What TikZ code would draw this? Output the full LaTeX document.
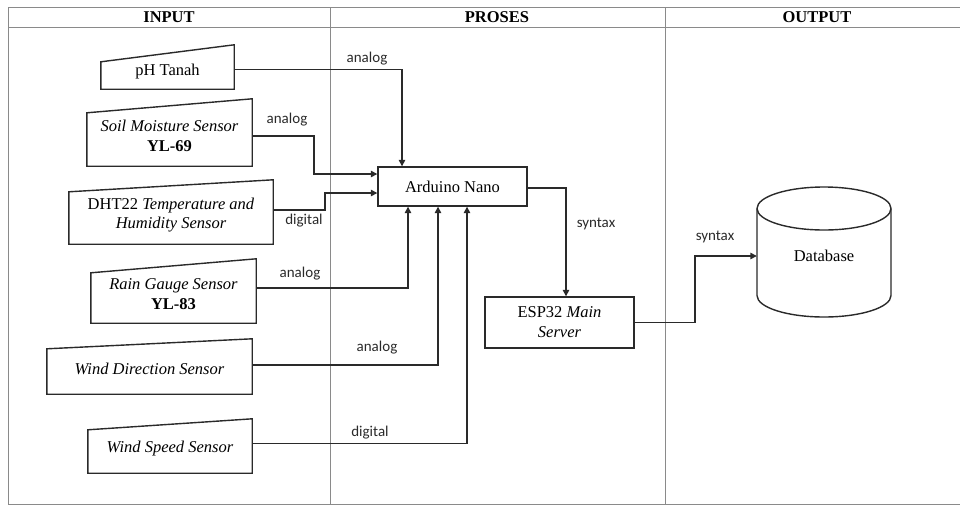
\documentclass[tikz,border=0pt]{standalone}
\usepackage{fontspec}
\setmainfont{Liberation Serif}
\newfontfamily\labfont{Carlito}
\usetikzlibrary{arrows.meta,positioning,calc}
\definecolor{ln}{HTML}{2A2A2A}
\definecolor{grid}{HTML}{8A8A8A}
\tikzset{
  sensor/.style={minimum height=#1, inner sep=0pt, align=center, font=\fontsize{16.5}{19.8}\selectfont},
  proc/.style={draw=ln, line width=1.4pt, inner sep=0pt, align=center, font=\fontsize{16.5}{19.8}\selectfont},
  head/.style={font=\fontsize{16.5}{19.8}\selectfont\bfseries},
  flow/.style={draw=ln, line width=1.4pt, -{Triangle[length=6.5pt,width=6.5pt]}},
  lab/.style={font=\labfont\fontsize{15}{18}\selectfont, text=ln, inner sep=0pt},
  frame/.style={draw=grid, line width=1pt},
}
\begin{document}
\begin{tikzpicture}[x=1pt, y=-1pt]
\useasboundingbox (0,0) rectangle (960,507);

% The three lanes: input, proses, output.
\draw[frame] (8,7) -- (960,7);
\draw[frame] (8,27) -- (960,27);
\draw[frame] (8,504) -- (960,504);
\draw[frame] (8,7) -- (8,504);
\draw[frame] (330,7) -- (330,504);
\draw[frame] (665,7) -- (665,504);
\node[head] (hin) at (169,17) {INPUT};
\node[head] (hpro) at (497,17) {PROSES};
\node[head] (hout) at (817,17) {OUTPUT};

% The sensors, drawn as manual input blocks (slanted top).
\node[sensor=35.5pt, minimum width=133pt] (ph) at (167.5,71.25) {pH Tanah};
\node[sensor=60pt, minimum width=165pt] (soil) at (169.5,136) {\textit{Soil Moisture Sensor}\\\textbf{YL-69}};
\node[sensor=58pt, minimum width=204pt] (dht) at (171,215) {DHT22 \textit{Temperature and}\\\textit{Humidity Sensor}};
\node[sensor=57pt, minimum width=165pt] (rain) at (173.5,294.5) {\textit{Rain Gauge Sensor}\\\textbf{YL-83}};
\node[sensor=50pt, minimum width=205pt] (wdir) at (149.5,369) {\textit{Wind Direction Sensor}};
\node[sensor=48.5pt, minimum width=164pt] (wspd) at (170,448.75) {\textit{Wind Speed Sensor}};
\foreach \n/\s in {ph/8.5pt, soil/7pt, dht/6pt, rain/7pt, wdir/5pt, wspd/5.5pt}
  \draw[ln, line width=1.4pt] (\n.south west) -- (\n.south east)
    -- ([yshift=\s]\n.north east) -- ([yshift=-\s]\n.north west) -- cycle;

% Processing and storage.
\node[proc, minimum width=149pt, minimum height=39pt] (ard) at (452.5,186.5) {Arduino Nano};
\node[proc, minimum width=149pt, minimum height=51pt] (esp) at (559.5,322.5) {ESP32 \textit{Main}\\\textit{Server}};
\node[sensor=130pt, minimum width=134pt] (db) at (824,256) {Database};
\draw[ln, line width=1.4pt] (824,208.5) ellipse [x radius=67, y radius=21.5];
\draw[ln, line width=1.4pt] (757,208.5) -- (757,295.5)
  arc[start angle=180, end angle=0, x radius=67, y radius=21.5] -- (891,208.5);

% Bends of the connectors.
\coordinate (k1) at (314,174);
\coordinate (k2) at (325,193);
\coordinate (k3) at (695,256);
\coordinate (t1) at (402,0);
\coordinate (t2) at (408,0);
\coordinate (t3) at (438,0);
\coordinate (t4) at (467,0);
\coordinate (t5) at (566,0);

\draw[flow] ([yshift=2pt]ph.east) -| (t1 |- ard.north);
\draw[flow] (soil.east) -| (k1) -- (k1 -| ard.west);
\draw[flow] ([yshift=5pt]dht.east) -| (k2) -- (k2 -| ard.west);
\draw[flow] ([yshift=6.5pt]rain.east) -| (t2 |- ard.south);
\draw[flow] ([yshift=4pt]wdir.east) -| (t3 |- ard.south);
\draw[flow] ([yshift=5pt]wspd.east) -| (t4 |- ard.south);
\draw[flow] ([yshift=-1.5pt]ard.east) -| (t5 |- esp.north);
\draw[flow] (esp.east) -| (k3) -- (db.west);

\node[lab] (l1) at (367,59) {analog};
\node[lab] (l2) at (287,120) {analog};
\node[lab] (l3) at (304,221) {digital};
\node[lab] (l4) at (300,274) {analog};
\node[lab] (l5) at (377,348) {analog};
\node[lab] (l6) at (370,433) {digital};
\node[lab] (l7) at (596,224) {syntax};
\node[lab] (l8) at (715,237) {syntax};

\end{tikzpicture}
\end{document}
